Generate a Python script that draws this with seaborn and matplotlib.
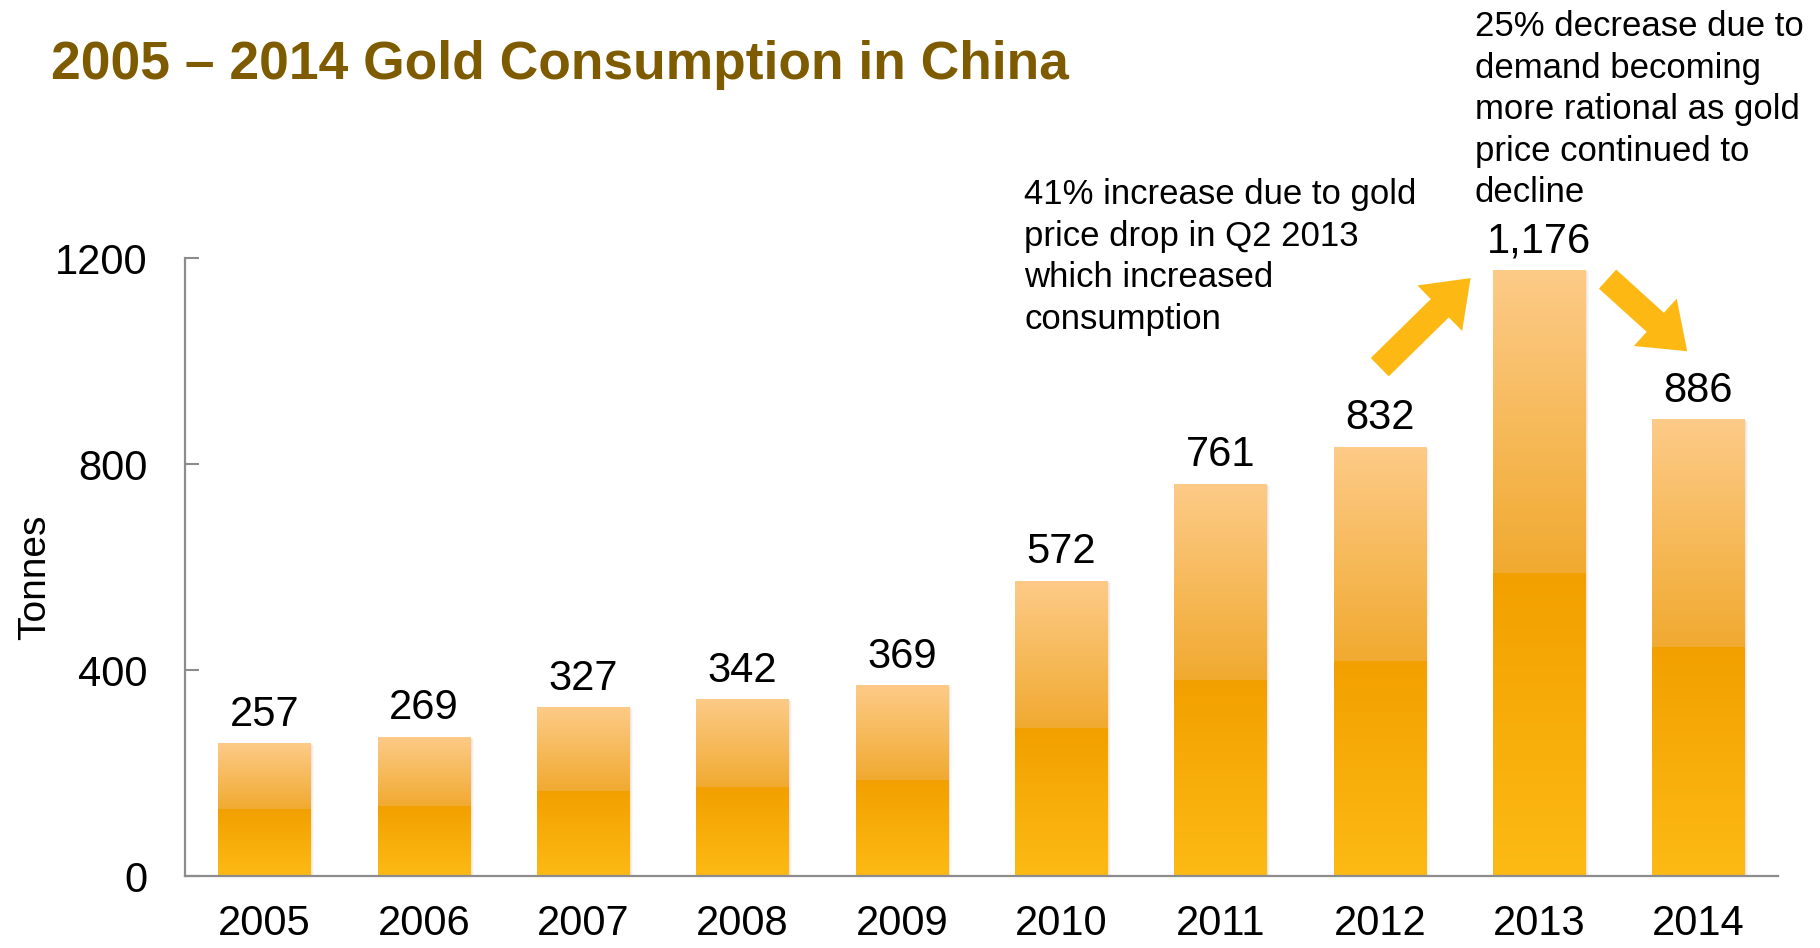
import numpy as np
import pandas as pd
import matplotlib
matplotlib.use("Agg")
import matplotlib.pyplot as plt
import matplotlib.transforms as mtransforms
from matplotlib.colors import to_rgb
from matplotlib.patches import FancyArrowPatch, ArrowStyle, Rectangle
import seaborn as sns

# Chinese gold consumption, tonnes per year
years = ["2005", "2006", "2007", "2008", "2009", "2010", "2011", "2012", "2013", "2014"]
tonnes = [257, 269, 327, 342, 369, 572, 761, 832, 1176, 886]
y_ticks = [0, 400, 800, 1200]

title = "2005 \u2013 2014 Gold Consumption in China"
note_rise = "41% increase due to gold\nprice drop in Q2 2013\nwhich increased\nconsumption"
note_fall = "25% decrease due to\ndemand becoming\nmore rational as gold\nprice continued to\ndecline"

sns.set_theme(style="white")
plt.rcParams["font.family"] = ["Liberation Sans", "DejaVu Sans"]

W, H = 1820, 948
fig = plt.figure(figsize=(W / 100, H / 100), dpi=100)
ax = fig.add_axes([185 / W, 1 - 876 / H, (1778 - 185) / W, (876 - 258) / H])

df = pd.DataFrame({"year": years, "tonnes": tonnes})
sns.barplot(data=df, x="year", y="tonnes", ax=ax, color="#F5B03A",
            width=0.58, saturation=1, zorder=2)


def ramp(c_top, c_bot, n):
    a, b = np.array(to_rgb(c_top)), np.array(to_rgb(c_bot))
    t = np.linspace(0, 1, n)[:, None]
    return a * (1 - t) + b * t


# two-tone vertical gradient: pale upper half, deep gold lower half
n = 300
grad = np.vstack([ramp("#FDCB88", "#F1AA30", n), ramp("#F2A000", "#FDBA14", n)])
grad = grad[:, None, :]

for patch in list(ax.patches):
    x0, w, h = patch.get_x(), patch.get_width(), patch.get_height()
    # soft drop shadow around the bar
    for k, a in [(5, 0.06), (3, 0.10), (1.5, 0.14)]:
        off = mtransforms.offset_copy(ax.transData, fig=fig, x=k * 0.6, y=-k * 0.3, units="dots")
        ax.add_patch(Rectangle((x0 - 0.004, 0), w + 0.008, h, transform=off,
                               facecolor="#B8A88C", edgecolor="none", alpha=a, zorder=1.5))
    patch.set_edgecolor("none")
    ax.imshow(grad, extent=[x0, x0 + w, 0, h], aspect="auto",
              interpolation="nearest", zorder=2.5)

ax.set_xlim(-0.5, 9.5)
ax.set_ylim(0, 1200)
ax.set_yticks(y_ticks)
ax.set_xlabel("")
ax.set_ylabel("Tonnes", fontsize=28, color="black")
ax.yaxis.set_label_coords(-0.083, 0.484)

for side in ["top", "right"]:
    ax.spines[side].set_visible(False)
for side in ["left", "bottom"]:
    ax.spines[side].set_color("#8C8C8C")
    ax.spines[side].set_linewidth(1.6)

ax.tick_params(axis="y", direction="in", length=10, width=1.5, color="#8C8C8C",
               labelsize=30, labelcolor="black", pad=27, left=True)
ax.tick_params(axis="x", length=0, labelsize=30, labelcolor="black", pad=20)

for i, v in enumerate(tonnes):
    ax.annotate(f"{v:,}", xy=(i, v), xytext=(0, 13), textcoords="offset points",
                ha="center", va="baseline", fontsize=30, color="black", zorder=4)

# trend arrows around the 2013 peak
arrow_style = ArrowStyle.Simple(head_length=31, head_width=46, tail_width=18.5)
for a, b in [((7.0, 988), (7.57, 1161)), ((8.43, 1159), (8.93, 1019))]:
    ax.add_patch(FancyArrowPatch(posA=a, posB=b, arrowstyle=arrow_style, mutation_scale=1,
                                 color="#FDB813", lw=0, shrinkA=0, shrinkB=0,
                                 clip_on=False, zorder=5))

fig.text(51 / W, 1 - 79 / H, title, fontsize=38.4, fontweight="bold",
         color="#7F5B00", va="baseline", ha="left")
fig.text(1024 / W, 1 - 178 / H, note_rise, fontsize=25, va="top", ha="left",
         linespacing=1.33, color="black")
fig.text(1475 / W, 1 - 10 / H, note_fall, fontsize=25, va="top", ha="left",
         linespacing=1.33, color="black")

fig.savefig("out.png", dpi=100, facecolor="white")
